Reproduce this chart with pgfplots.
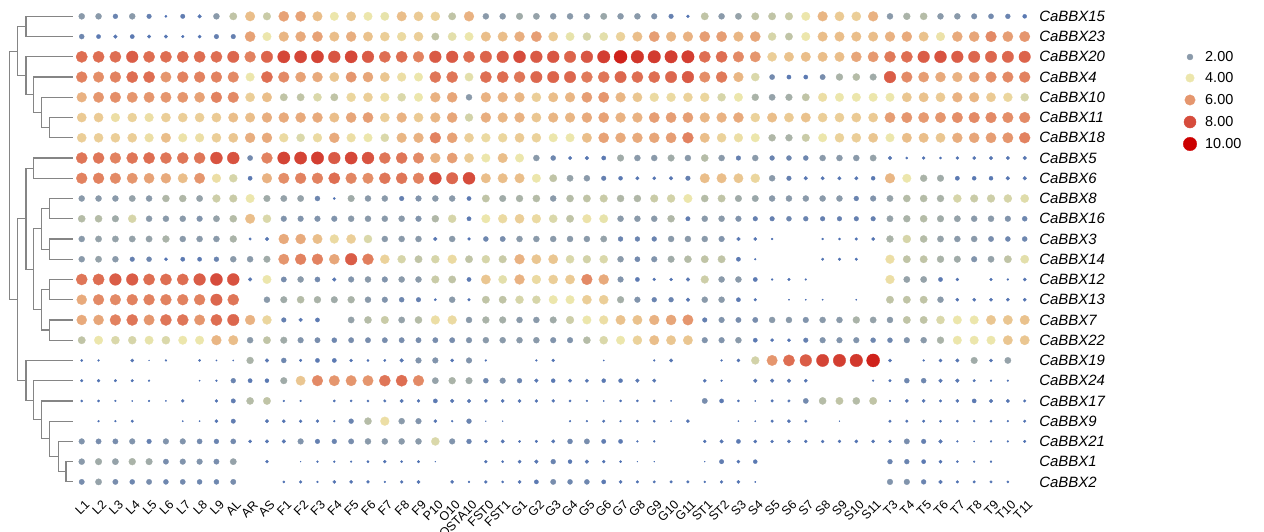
\documentclass[border=0pt]{standalone}
\usepackage{pgfplots}
\pgfplotsset{compat=1.18}
\usepackage{fontspec}
\setmainfont{Liberation Sans}
\pgfplotsset{
  colormap={bbx}{rgb255=(72,108,178) rgb255=(92,122,178) rgb255=(138,154,170) rgb255=(192,196,166) rgb255=(236,230,172) rgb255=(234,190,138) rgb255=(229,150,110) rgb255=(222,110,82) rgb255=(214,76,60) rgb255=(208,48,38) rgb255=(204,0,0)},
  bubble/.style={scatter, only marks, mark=*, point meta=explicit,
    restrict expr to domain={\thisrow{v}}{0.01:100},
    scatter/use mapped color={draw=mapped color, fill=mapped color},
    mark options={line width=0.3bp},
    visualization depends on={2.15*sqrt(\thisrow{v}) \as \perpointmarksize},
    scatter/@pre marker code/.append style={/tikz/mark size=\perpointmarksize}},
  dend/.style={draw=black!48, line width=1.2bp, no marks},
}
\newcommand\generow[2]{\addplot[bubble] table[row sep=\\, x expr=\coordindex, y expr=#1, meta=v] {#2};}
\begin{document}
\begin{tikzpicture}
\useasboundingbox (0,0) rectangle (1264bp,-532bp);
\clip (0,0) rectangle (1264bp,-532bp);
% dendrogram
\begin{axis}[at={(0bp,-6.2bp)}, anchor=north west, width=73.3bp, height=485.8bp, scale only axis,
  xmin=0, xmax=73.3, ymin=-0.5, ymax=23.5, y dir=reverse, hide axis, xtick=\empty, ytick=\empty, clip=false]
\addplot[dend] coordinates {(73,0) (26,0) (26,1) (73,1)};
\addplot[dend] coordinates {(73,5) (49.3,5) (49.3,6) (73,6)};
\addplot[dend] coordinates {(73,4) (41.7,4) (41.7,5.5) (49.3,5.5)};
\addplot[dend] coordinates {(73,3) (33.3,3) (33.3,4.75) (41.7,4.75)};
\addplot[dend] coordinates {(73,2) (26,2) (26,3.875) (33.3,3.875)};
\addplot[dend] coordinates {(26,0.5) (17.3,0.5) (17.3,2.9375) (26,2.9375)};
\addplot[dend] coordinates {(73,7) (33.3,7) (33.3,8) (73,8)};
\addplot[dend] coordinates {(73,9) (49.3,9) (49.3,10) (73,10)};
\addplot[dend] coordinates {(73,11) (49.3,11) (49.3,12) (73,12)};
\addplot[dend] coordinates {(49.3,9.5) (41.7,9.5) (41.7,11.5) (49.3,11.5)};
\addplot[dend] coordinates {(73,13) (49.3,13) (49.3,14) (73,14)};
\addplot[dend] coordinates {(73,15) (49.3,15) (49.3,16) (73,16)};
\addplot[dend] coordinates {(49.3,13.5) (41.7,13.5) (41.7,15.5) (49.3,15.5)};
\addplot[dend] coordinates {(41.7,10.5) (33.3,10.5) (33.3,14.5) (41.7,14.5)};
\addplot[dend] coordinates {(33.3,7.5) (26,7.5) (26,12.5) (33.3,12.5)};
\addplot[dend] coordinates {(73,22) (66,22) (66,23) (73,23)};
\addplot[dend] coordinates {(73,21) (58.3,21) (58.3,22.5) (66,22.5)};
\addplot[dend] coordinates {(73,20) (49.3,20) (49.3,21.75) (58.3,21.75)};
\addplot[dend] coordinates {(73,19) (41.7,19) (41.7,20.875) (49.3,20.875)};
\addplot[dend] coordinates {(73,18) (33.3,18) (33.3,19.9375) (41.7,19.9375)};
\addplot[dend] coordinates {(73,17) (26,17) (26,18.97) (33.3,18.97)};
\addplot[dend] coordinates {(26,10) (17.3,10) (17.3,17.98) (26,17.98)};
\addplot[dend] coordinates {(17.3,1.72) (9.3,1.72) (9.3,13.99) (17.3,13.99)};
\end{axis}
% bubble grid
\begin{axis}[at={(73.3bp,-6.2bp)}, anchor=north west, width=959.8bp, height=485.8bp, scale only axis,
  xmin=-0.5, xmax=56.5, ymin=-0.5, ymax=23.5, y dir=reverse,
  axis line style={draw=none}, major tick length=0pt, clip=false,
  point meta min=0, point meta max=10,
  xtick={0,...,56}, xtick pos=bottom,
  xticklabels={L1,L2,L3,L4,L5,L6,L7,L8,L9,AL,AR,AS,F1,F2,F3,F4,F5,F6,F7,F8,F9,P10,O10,OSTA10,FST0,FST1,G1,G2,G3,G4,G5,G6,G7,G8,G9,G10,G11,ST1,ST2,S3,S4,S5,S6,S7,S8,S9,S10,S11,T3,T4,T5,T6,T7,T8,T9,T10,T11},
  xticklabel style={rotate=45, anchor=east, inner sep=0pt, xshift=-3.5bp, yshift=-11.5bp, font=\fontsize{12.5}{14}\selectfont},
  ytick={0,...,23}, ytick pos=right,
  yticklabels={CaBBX15,CaBBX23,CaBBX20,CaBBX4,CaBBX10,CaBBX11,CaBBX18,CaBBX5,CaBBX6,CaBBX8,CaBBX16,CaBBX3,CaBBX14,CaBBX12,CaBBX13,CaBBX7,CaBBX22,CaBBX19,CaBBX24,CaBBX17,CaBBX9,CaBBX21,CaBBX1,CaBBX2},
  yticklabel pos=right,
  yticklabel style={anchor=west, inner sep=0pt, xshift=6bp, font=\fontsize{15}{17}\selectfont\itshape},
]
% columns: L1..L9 AL AR AS F1..F9 P10 O10 OSTA10 FST0 FST1 G1..G11 ST1 ST2 S3..S11 T3..T11
\generow{0}{v\\2.0\\2.0\\1.3\\2.0\\1.2\\0.3\\1.1\\0.8\\2.0\\3.0\\5.0\\3.2\\5.7\\5.7\\5.0\\4.0\\4.8\\4.0\\3.9\\5.0\\4.7\\4.5\\3.0\\5.3\\2.0\\2.0\\2.4\\2.2\\2.0\\2.0\\2.0\\2.3\\2.0\\2.0\\1.8\\1.2\\0.5\\3.0\\2.0\\2.2\\3.0\\3.0\\3.2\\4.0\\5.2\\4.7\\4.6\\5.3\\2.0\\2.6\\2.8\\2.0\\2.0\\1.7\\1.5\\1.3\\0.9\\}
\generow{1}{v\\1.4\\1.0\\0.8\\1.0\\0.7\\0.7\\0.4\\0.6\\1.2\\1.2\\5.7\\4.0\\5.2\\5.5\\5.7\\5.0\\5.4\\4.9\\4.6\\4.3\\4.6\\3.0\\3.8\\4.0\\5.0\\5.0\\5.4\\5.8\\4.7\\3.9\\3.5\\3.8\\4.5\\5.0\\5.8\\5.2\\5.3\\5.8\\5.8\\5.2\\5.6\\3.5\\3.0\\4.0\\5.0\\5.0\\5.0\\5.0\\5.3\\5.5\\4.9\\4.1\\5.5\\5.6\\6.3\\5.8\\6.0\\}
\generow{2}{v\\7.0\\7.0\\7.0\\7.5\\7.0\\7.0\\7.0\\7.0\\7.0\\7.2\\6.5\\7.3\\8.2\\8.2\\8.3\\7.7\\8.2\\7.6\\7.0\\7.0\\6.5\\7.6\\7.6\\7.0\\7.3\\7.5\\8.0\\7.6\\7.7\\7.3\\7.7\\8.5\\9.3\\8.8\\8.6\\8.5\\8.5\\7.0\\7.0\\6.3\\6.0\\4.6\\4.9\\5.0\\5.0\\5.0\\5.6\\5.9\\6.7\\7.0\\7.5\\7.8\\7.5\\7.2\\7.2\\7.2\\7.3\\}
\generow{3}{v\\6.5\\6.2\\6.5\\7.0\\7.0\\6.0\\6.5\\6.5\\6.5\\6.3\\4.0\\7.0\\6.3\\5.7\\5.5\\4.8\\6.0\\5.6\\4.8\\4.2\\4.0\\6.8\\6.8\\3.8\\7.0\\7.0\\6.8\\7.2\\7.3\\7.2\\6.7\\6.8\\7.2\\7.0\\7.0\\7.2\\7.6\\6.2\\6.7\\5.2\\3.6\\1.5\\1.0\\1.0\\1.6\\2.6\\2.8\\2.4\\7.5\\6.3\\5.8\\5.5\\5.3\\5.8\\6.2\\6.3\\6.5\\}
\generow{4}{v\\5.3\\6.0\\6.2\\6.0\\6.0\\6.0\\6.0\\5.7\\6.5\\6.3\\4.6\\5.0\\3.0\\3.0\\3.6\\3.0\\4.4\\4.6\\4.2\\3.6\\4.0\\5.3\\5.6\\2.0\\5.3\\5.3\\5.2\\4.6\\5.0\\5.2\\5.8\\6.0\\5.2\\4.8\\4.3\\4.3\\4.5\\4.4\\3.5\\4.0\\2.6\\2.2\\2.5\\3.0\\4.2\\4.0\\4.0\\4.0\\4.0\\4.8\\4.9\\4.7\\5.3\\5.2\\4.7\\4.4\\3.5\\}
\generow{5}{v\\4.7\\4.7\\4.2\\4.5\\4.2\\4.6\\4.6\\4.6\\4.7\\5.0\\5.0\\5.4\\5.5\\5.5\\5.5\\5.0\\5.6\\5.8\\4.6\\5.3\\4.7\\5.2\\5.6\\3.4\\5.4\\5.2\\5.3\\4.8\\5.2\\5.2\\5.5\\5.7\\5.3\\5.3\\5.8\\5.8\\5.8\\5.2\\5.3\\5.5\\4.5\\5.0\\4.7\\4.9\\4.6\\4.6\\4.7\\4.7\\5.8\\6.0\\5.9\\6.0\\6.2\\6.3\\6.3\\6.2\\6.3\\}
\generow{6}{v\\4.6\\4.6\\4.6\\4.6\\4.2\\5.0\\4.1\\4.2\\4.6\\4.8\\5.4\\5.5\\4.3\\3.6\\4.3\\5.5\\4.2\\4.0\\3.6\\5.2\\5.3\\6.5\\5.7\\4.6\\4.3\\4.4\\4.7\\4.5\\4.0\\4.0\\5.0\\5.7\\5.5\\5.5\\5.6\\5.8\\6.5\\5.0\\4.5\\4.2\\4.0\\2.7\\2.6\\3.2\\4.0\\4.5\\4.6\\4.8\\4.0\\5.0\\5.0\\4.8\\5.4\\5.6\\5.8\\6.0\\6.5\\}
\generow{7}{v\\6.8\\6.8\\6.5\\6.8\\7.0\\6.8\\6.8\\6.8\\7.8\\7.8\\1.5\\6.5\\8.3\\8.3\\8.5\\7.6\\8.2\\7.8\\6.8\\6.8\\6.3\\5.3\\5.8\\4.7\\4.0\\5.0\\4.0\\2.0\\1.4\\0.7\\0.8\\1.0\\2.4\\2.0\\2.0\\2.4\\2.0\\2.8\\2.0\\1.2\\2.0\\1.3\\1.4\\1.4\\2.0\\2.0\\2.0\\2.2\\0.8\\0.3\\0.5\\0.3\\0.5\\0.6\\0.7\\0.7\\0.8\\}
\generow{8}{v\\6.5\\6.5\\6.3\\6.0\\5.7\\5.5\\5.0\\6.0\\4.2\\3.5\\1.0\\5.3\\6.2\\6.5\\6.5\\7.0\\6.4\\6.2\\6.8\\6.8\\6.5\\8.0\\7.2\\8.0\\5.0\\5.0\\5.0\\4.0\\3.0\\2.2\\2.0\\1.2\\0.9\\0.7\\0.6\\0.8\\1.2\\5.0\\5.0\\4.8\\4.4\\2.0\\1.2\\0.8\\0.7\\0.7\\0.7\\0.9\\5.2\\4.0\\2.6\\2.4\\1.0\\0.9\\0.9\\0.8\\0.8\\}
\generow{9}{v\\2.0\\2.0\\2.0\\2.2\\2.0\\2.7\\2.7\\2.2\\3.3\\3.2\\4.0\\2.4\\2.2\\2.2\\1.4\\0.3\\2.4\\2.0\\2.0\\1.2\\1.8\\2.0\\2.0\\1.0\\3.0\\2.4\\2.6\\2.8\\2.0\\2.8\\3.0\\3.2\\2.7\\2.7\\3.2\\3.4\\4.0\\2.8\\3.0\\2.4\\2.3\\2.0\\2.0\\2.0\\2.0\\2.0\\1.3\\1.8\\2.2\\2.8\\2.8\\2.6\\3.5\\3.2\\3.3\\3.5\\3.7\\}
\generow{10}{v\\2.8\\2.8\\2.4\\3.5\\2.0\\2.0\\2.0\\1.8\\2.2\\2.8\\5.0\\3.6\\1.8\\1.8\\1.8\\1.8\\2.0\\2.0\\2.0\\2.0\\1.8\\2.7\\3.5\\1.0\\4.0\\4.3\\4.6\\4.3\\3.6\\3.0\\4.1\\3.9\\2.0\\2.0\\2.0\\2.7\\1.1\\2.0\\2.0\\1.8\\1.2\\1.2\\1.4\\1.3\\1.2\\1.2\\1.2\\1.2\\2.2\\2.6\\2.8\\2.4\\2.2\\2.0\\2.0\\1.8\\1.4\\}
\generow{11}{v\\2.0\\2.2\\2.2\\2.2\\2.2\\2.6\\2.0\\2.0\\2.0\\2.6\\0.4\\0.8\\5.5\\5.5\\5.0\\4.3\\4.6\\3.6\\2.0\\2.0\\2.0\\0.8\\2.0\\0.5\\1.4\\1.6\\2.0\\2.0\\2.0\\2.0\\2.0\\2.2\\1.3\\1.3\\1.3\\2.0\\2.0\\2.0\\1.8\\0.8\\0.6\\0.2\\0\\0\\0.2\\0.3\\0.4\\0.6\\2.6\\3.5\\2.8\\2.2\\2.0\\2.0\\1.6\\1.4\\1.4\\}
\generow{12}{v\\2.0\\2.2\\2.0\\1.2\\1.4\\0.6\\1.0\\1.0\\1.3\\2.0\\2.0\\2.4\\6.0\\6.5\\6.5\\5.6\\7.5\\6.6\\4.5\\3.5\\3.0\\3.5\\4.3\\3.0\\3.5\\3.2\\5.3\\4.8\\4.8\\3.6\\3.4\\3.6\\2.0\\1.5\\1.8\\2.4\\2.8\\3.0\\3.0\\1.0\\0.2\\0\\0\\0\\0.4\\0.4\\0.4\\0\\4.2\\3.0\\3.0\\2.6\\2.4\\1.8\\2.2\\3.0\\3.8\\}
\generow{13}{v\\6.8\\7.0\\7.5\\7.5\\7.0\\7.0\\7.0\\7.5\\8.0\\7.8\\0.8\\4.0\\1.6\\2.0\\1.5\\0.8\\1.8\\2.0\\1.8\\2.0\\2.0\\3.2\\3.0\\1.0\\4.8\\3.8\\5.3\\4.3\\4.6\\4.7\\6.3\\5.5\\1.8\\1.0\\0.5\\0.5\\0.8\\3.3\\2.0\\2.0\\1.0\\0.2\\0.4\\0.2\\0\\0\\0\\0\\4.2\\2.2\\2.2\\1.0\\0.5\\0\\0.4\\0.2\\0.6\\}
\generow{14}{v\\5.5\\6.3\\6.3\\6.5\\6.5\\6.5\\6.5\\6.5\\7.2\\6.8\\0\\2.0\\2.4\\2.8\\2.6\\2.4\\2.6\\2.0\\1.8\\1.4\\1.2\\0.3\\2.0\\0.4\\3.0\\3.0\\3.5\\3.5\\4.0\\4.0\\4.6\\4.6\\2.5\\1.8\\1.3\\1.3\\0.8\\2.0\\2.0\\1.0\\0.4\\0\\0.1\\0.1\\0.1\\0\\0.1\\0\\3.0\\3.0\\3.0\\2.0\\0.6\\0.6\\0.6\\0.6\\0.6\\}
\generow{15}{v\\5.5\\5.6\\6.5\\6.8\\6.0\\6.8\\6.8\\6.0\\7.0\\7.2\\5.3\\4.4\\1.2\\0.8\\1.0\\0\\2.2\\2.8\\3.2\\2.2\\2.8\\4.2\\4.3\\2.0\\2.6\\2.5\\2.0\\2.0\\2.4\\3.3\\4.0\\4.2\\4.9\\4.9\\5.3\\5.6\\6.0\\1.2\\1.8\\1.6\\1.6\\2.0\\2.0\\1.8\\2.0\\2.0\\2.6\\2.2\\2.0\\3.0\\3.0\\3.6\\4.0\\4.0\\4.8\\4.8\\4.9\\}
\generow{16}{v\\3.0\\4.0\\3.6\\3.5\\3.9\\3.6\\4.0\\4.0\\5.2\\5.0\\2.0\\3.0\\2.4\\1.8\\1.6\\1.4\\1.6\\1.6\\1.6\\1.6\\1.6\\1.6\\1.6\\1.8\\2.0\\2.0\\2.0\\2.0\\1.8\\1.8\\2.8\\3.6\\4.0\\4.5\\5.0\\4.8\\4.8\\1.8\\1.8\\2.0\\1.0\\0.6\\0.6\\1.2\\1.8\\1.8\\1.8\\1.4\\1.4\\1.8\\2.0\\2.6\\4.0\\4.0\\4.0\\4.8\\4.8\\}
\generow{17}{v\\0.3\\0.2\\0\\0.6\\0.05\\0.2\\0\\0.3\\0.1\\0.1\\2.6\\0.8\\1.4\\0.4\\1.0\\1.0\\0.5\\0.3\\0.3\\0.8\\1.8\\1.8\\0.6\\1.8\\0.2\\0\\0\\0.2\\0.5\\0\\0\\0.1\\0\\0\\0.2\\0.7\\0\\0\\0.2\\0.6\\3.4\\6.0\\7.0\\7.5\\8.3\\8.5\\8.7\\9.3\\0.6\\0\\0.2\\0.6\\0.7\\2.4\\0.6\\2.2\\0\\}
\generow{18}{v\\0.4\\0.5\\0.4\\0.4\\0.2\\0\\0\\0.1\\0.2\\1.3\\1.0\\0.9\\2.4\\4.8\\6.3\\6.0\\6.0\\6.0\\6.8\\7.0\\6.3\\2.2\\2.6\\2.4\\1.4\\1.8\\1.3\\0.8\\0.9\\0.7\\0.7\\0.9\\0.9\\0.8\\0.7\\0\\0\\0.6\\0.2\\0\\0.8\\0.8\\0.8\\0.6\\0\\0\\0\\0.2\\0.4\\1.4\\1.4\\0.8\\0.8\\0.4\\0.2\\0.2\\0\\}
\generow{19}{v\\0.3\\0.3\\0.2\\0.1\\0.2\\0.1\\0.5\\0\\0.5\\1.1\\2.8\\3.0\\0.2\\0.2\\0\\0.3\\0.3\\0.3\\0.4\\0.7\\0.5\\1.0\\0.8\\0.8\\0.6\\0.6\\0.6\\0.5\\0.5\\0.3\\0.2\\0.1\\0.3\\0.3\\0.3\\0.1\\0\\1.6\\1.0\\0.3\\0.1\\0.4\\0.4\\1.5\\2.8\\3.0\\2.8\\3.0\\0.2\\0.6\\0.6\\0.4\\0.6\\1.0\\0.8\\0.7\\0.4\\}
\generow{20}{v\\0\\0.2\\0.2\\0.4\\0\\0\\0.1\\0.1\\0.6\\1.1\\0\\0.7\\0.6\\0.5\\0.5\\0.2\\1.3\\2.8\\4.2\\2.0\\1.8\\0.6\\0.2\\1.3\\0.05\\0.05\\0\\0\\0\\0.2\\0.2\\0.4\\0.2\\0.3\\0.3\\0.1\\0.6\\0\\0\\0.1\\0.1\\0.4\\0.6\\0.4\\0\\0.05\\0\\0\\0.4\\0.4\\0.4\\0.3\\0.3\\0.2\\0.3\\0.2\\0.4\\}
\generow{21}{v\\1.8\\1.6\\1.6\\1.8\\1.2\\1.8\\1.8\\1.5\\1.3\\1.5\\0.6\\0.7\\0.8\\1.8\\1.2\\1.3\\1.6\\2.0\\2.0\\2.0\\2.0\\3.6\\1.8\\1.3\\0.6\\0.7\\0.3\\0.4\\0.7\\1.4\\1.6\\1.1\\1.0\\0.2\\0.2\\0\\0\\0.5\\0.7\\1.0\\0.6\\0.5\\0.6\\0.5\\0.5\\0.5\\0.6\\0.6\\0.5\\1.6\\1.2\\0.8\\0.2\\0.1\\0.2\\0.2\\0.4\\}
\generow{22}{v\\2.0\\2.4\\2.2\\2.6\\2.4\\1.6\\1.8\\1.8\\1.6\\2.2\\0\\0.5\\0\\0.05\\0.2\\0.2\\0.2\\0.3\\0.5\\0.3\\0.4\\0.05\\0\\0\\0.5\\0.3\\0.6\\0.8\\1.3\\0.9\\0.8\\0.5\\0.3\\0.05\\0.05\\0\\0\\0.05\\1.1\\0.6\\0.9\\0\\0\\0\\0\\0\\0\\0\\1.3\\1.3\\1.0\\0.6\\0.3\\0.2\\0.2\\0\\0\\}
\generow{23}{v\\1.6\\2.2\\1.6\\1.4\\1.6\\1.4\\1.5\\1.4\\1.4\\1.6\\0\\0\\0.3\\0.5\\0.2\\0.6\\0.6\\0.5\\0.2\\0.5\\0.6\\0\\0.6\\0.2\\0.5\\0.3\\0.6\\1.0\\1.6\\1.4\\1.4\\1.0\\0.6\\0.4\\0.4\\0.4\\0.4\\0.2\\0.5\\0.6\\0.1\\0\\0\\0\\0\\0\\0\\0\\1.8\\1.8\\1.3\\0.8\\0.4\\0.4\\0.4\\0.3\\0\\}
\end{axis}
% legend
\begin{axis}[at={(1170bp,-40bp)}, anchor=north west, width=94bp, height=120bp, scale only axis,
  xmin=1170, xmax=1264, ymin=40, ymax=160, y dir=reverse, hide axis, xtick=\empty, ytick=\empty, clip=false,
  point meta min=0, point meta max=10]
\addplot[bubble] table[row sep=\\, meta=v] {x y v\\ 1190 57 2\\ 1190 78 4\\ 1190 100 6\\ 1190 122 8\\ 1190 144 10\\};
\node[anchor=west, inner sep=0pt, font=\fontsize{14.5}{16}\selectfont] at (axis cs:1205,57) {2.00};
\node[anchor=west, inner sep=0pt, font=\fontsize{14.5}{16}\selectfont] at (axis cs:1205,78) {4.00};
\node[anchor=west, inner sep=0pt, font=\fontsize{14.5}{16}\selectfont] at (axis cs:1205,100) {6.00};
\node[anchor=west, inner sep=0pt, font=\fontsize{14.5}{16}\selectfont] at (axis cs:1205,122) {8.00};
\node[anchor=west, inner sep=0pt, font=\fontsize{14.5}{16}\selectfont] at (axis cs:1205,144) {10.00};
\end{axis}
\end{tikzpicture}
\end{document}
